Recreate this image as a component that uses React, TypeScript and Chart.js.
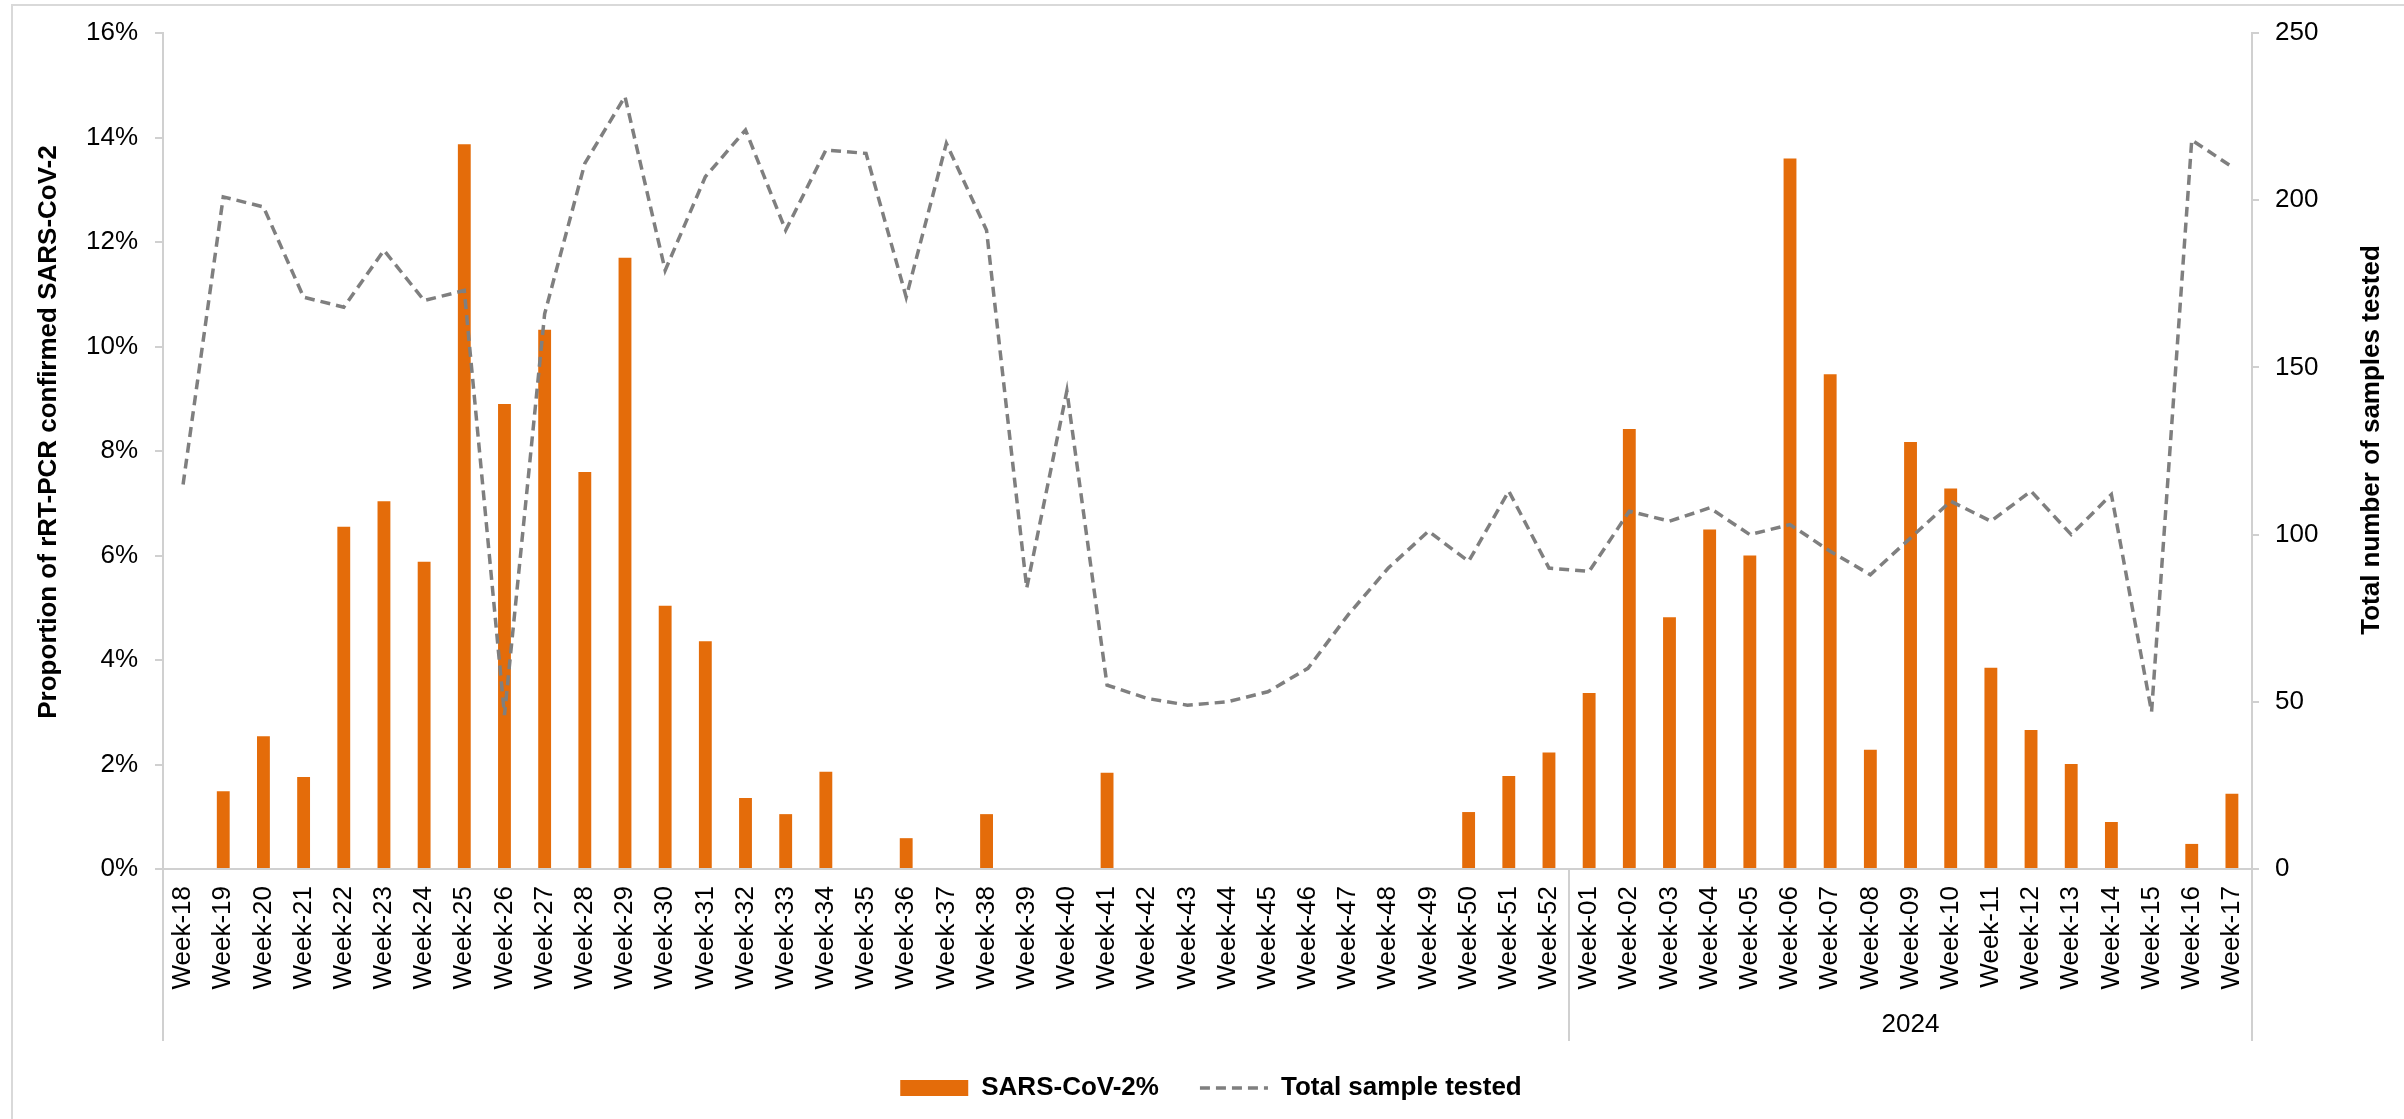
import React, { useEffect, useRef } from "react";
import { Chart, registerables } from "chart.js";

Chart.register(...registerables);

const weeks: string[] = [
  "Week-18", "Week-19", "Week-20", "Week-21", "Week-22", "Week-23", "Week-24", "Week-25", "Week-26", "Week-27",
  "Week-28", "Week-29", "Week-30", "Week-31", "Week-32", "Week-33", "Week-34", "Week-35", "Week-36", "Week-37",
  "Week-38", "Week-39", "Week-40", "Week-41", "Week-42", "Week-43", "Week-44", "Week-45", "Week-46", "Week-47",
  "Week-48", "Week-49", "Week-50", "Week-51", "Week-52",
  "Week-01", "Week-02", "Week-03", "Week-04", "Week-05", "Week-06", "Week-07", "Week-08", "Week-09", "Week-10",
  "Week-11", "Week-12", "Week-13", "Week-14", "Week-15", "Week-16", "Week-17",
];

const yearGroupLabel = "2024";
const yearGroupStartIndex = 35;

const sarsCov2Percent: number[] = [
  0, 1.49, 2.54, 1.76, 6.55, 7.04, 5.88, 13.87, 8.9, 10.32,
  7.6, 11.7, 5.04, 4.36, 1.36, 1.05, 1.86, 0, 0.59, 0,
  1.05, 0, 0, 1.84, 0, 0, 0, 0, 0, 0,
  0, 0, 1.09, 1.78, 2.23,
  3.37, 8.42, 4.82, 6.5, 6.0, 13.6, 9.47, 2.28, 8.17, 7.28,
  3.85, 2.66, 2.01, 0.9, 0, 0.48, 1.44,
];

const totalSamples: number[] = [
  115, 201, 198, 171, 168, 185, 170, 173, 46, 166,
  211, 231, 179, 207, 221, 191, 215, 214, 171, 217,
  191, 84, 143, 55, 51, 49, 50, 53, 60, 76,
  90, 101, 92, 113, 90,
  89, 107, 104, 108, 100, 103, 95, 88, 99, 110,
  104, 113, 100, 112, 47, 218, 210,
];

const leftTicksMax = 16;
const leftTicksStep = 2;
const rightTicksMax = 250;
const rightTicksStep = 50;

const leftTitle = "Proportion of rRT-PCR confirmed SARS-CoV-2";
const rightTitle = "Total number of samples tested";
const barLabel = "SARS-CoV-2%";
const lineLabel = "Total sample tested";

const FONT = "'Liberation Sans', Arial, Helvetica, sans-serif";
const ORANGE = "#E46C0A";
const GREY_LINE = "#7F7F7F";
const AXIS = "#D0D0D0";
const DASH = [10, 6];

const W = 2404;
const H = 1119;

export default function App() {
  const ref = useRef<HTMLCanvasElement | null>(null);

  useEffect(() => {
    if (!ref.current) return;

    const decor = {
      id: "decor",
      afterDraw(chart: any) {
        const ctx = chart.ctx;
        const area = chart.chartArea;
        const xs = chart.scales.x;
        const extBottom = 1041;
        ctx.save();
        // outer frame
        ctx.strokeStyle = "#D9D9D9";
        ctx.lineWidth = 2;
        ctx.strokeRect(12, 5, W + 20, H + 20);
        // axis extensions & group separator
        ctx.strokeStyle = AXIS;
        ctx.lineWidth = 2;
        const sepX =
          (xs.getPixelForValue(yearGroupStartIndex - 1) + xs.getPixelForValue(yearGroupStartIndex)) / 2;
        [area.left, area.right, sepX].forEach((x: number) => {
          ctx.beginPath();
          ctx.moveTo(Math.round(x), area.bottom);
          ctx.lineTo(Math.round(x), extBottom);
          ctx.stroke();
        });
        // group label
        ctx.fillStyle = "#000";
        ctx.font = `26px ${FONT}`;
        ctx.textAlign = "center";
        ctx.textBaseline = "middle";
        ctx.fillText(yearGroupLabel, (sepX + area.right) / 2, 1025);
        // axis titles
        ctx.font = `bold 26px ${FONT}`;
        const drawV = (text: string, x: number, y: number) => {
          ctx.save();
          ctx.translate(x, y);
          ctx.rotate(-Math.PI / 2);
          ctx.fillText(text, 0, 0);
          ctx.restore();
        };
        drawV(leftTitle, 49, 432);
        drawV(rightTitle, 2372, 440);
        ctx.restore();
      },
    };

    const chart = new Chart(ref.current, {
      type: "bar",
      data: {
        labels: weeks,
        datasets: [
          {
            type: "bar",
            label: barLabel,
            data: sarsCov2Percent,
            backgroundColor: ORANGE,
            borderWidth: 0,
            barPercentage: 0.32,
            categoryPercentage: 1,
            yAxisID: "y",
            order: 2,
          },
          {
            type: "line",
            label: lineLabel,
            data: totalSamples,
            borderColor: GREY_LINE,
            borderWidth: 3.5,
            borderDash: DASH,
            pointRadius: 0,
            tension: 0,
            fill: false,
            yAxisID: "y1",
            order: 1,
          },
        ],
      } as any,
      options: {
        responsive: false,
        animation: false,
        devicePixelRatio: 1,
        layout: { padding: { left: 18, right: 0, top: 33, bottom: 8 } },
        plugins: {
          tooltip: { enabled: false },
          legend: {
            display: true,
            position: "bottom",
            labels: {
              usePointStyle: true,
              pointStyleWidth: 68,
              boxHeight: 16,
              padding: 41,
              color: "#000",
              font: { family: FONT, size: 26, weight: "bold" },
              generateLabels: () => [
                {
                  text: barLabel,
                  fillStyle: ORANGE,
                  strokeStyle: ORANGE,
                  lineWidth: 0,
                  pointStyle: "rect",
                  datasetIndex: 0,
                  hidden: false,
                },
                {
                  text: lineLabel,
                  fillStyle: "rgba(0,0,0,0)",
                  strokeStyle: GREY_LINE,
                  lineWidth: 3.5,
                  lineDash: DASH,
                  pointStyle: "line",
                  datasetIndex: 1,
                  hidden: false,
                },
              ],
            },
          },
        },
        scales: {
          x: {
            type: "category",
            offset: true,
            grid: { display: true, drawOnChartArea: false, drawTicks: false, color: "rgba(0,0,0,0)" },
            border: { display: true, color: AXIS, width: 2 },
            ticks: {
              autoSkip: false,
              maxRotation: 90,
              minRotation: 90,
              padding: 17,
              color: "#000",
              font: { family: FONT, size: 26 },
            },
            afterFit: (s: any) => {
              s.height = 165;
            },
          },
          y: {
            position: "left",
            min: 0,
            max: leftTicksMax,
            ticks: {
              stepSize: leftTicksStep,
              padding: 17,
              color: "#000",
              font: { family: FONT, size: 26 },
              callback: (v: any) => `${v}%`,
            },
            grid: { display: true, drawOnChartArea: false, drawTicks: true, tickLength: 8, color: AXIS, lineWidth: 2 },
            border: { display: true, color: AXIS, width: 2 },
            afterFit: (s: any) => {
              s.width = 145;
            },
          },
          y1: {
            position: "right",
            min: 0,
            max: rightTicksMax,
            ticks: {
              stepSize: rightTicksStep,
              padding: 16,
              color: "#000",
              font: { family: FONT, size: 26 },
            },
            grid: { display: true, drawOnChartArea: false, drawTicks: true, tickLength: 7, color: AXIS, lineWidth: 2 },
            border: { display: true, color: AXIS, width: 2 },
            afterFit: (s: any) => {
              s.width = 152;
            },
          },
        },
      } as any,
      plugins: [decor],
    });

    return () => chart.destroy();
  }, []);

  return (
    <div style={{ position: "absolute", left: 0, top: 0, width: W, height: H, background: "#fff" }}>
      <canvas ref={ref} width={W} height={H} style={{ width: W, height: H, display: "block" }} />
    </div>
  );
}
